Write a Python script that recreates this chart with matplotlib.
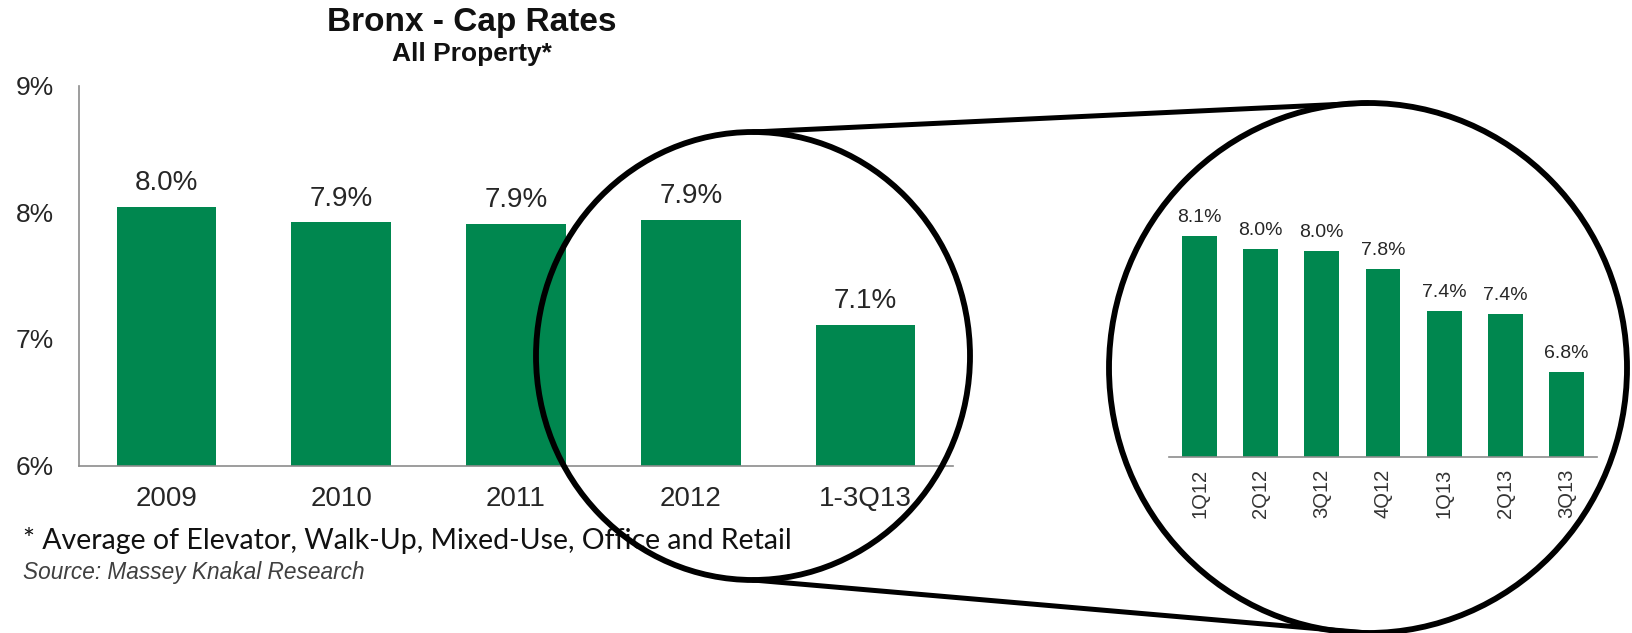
import matplotlib
matplotlib.use("Agg")
import matplotlib.pyplot as plt
from matplotlib.patches import Ellipse
from matplotlib.ticker import FuncFormatter

plt.rcParams['font.family'] = ['Liberation Sans', 'DejaVu Sans']

# Annual cap rates (%)
years = ["2009", "2010", "2011", "2012", "1-3Q13"]
annual_rates = [8.04, 7.92, 7.91, 7.94, 7.11]

# Quarterly cap rates (%)
quarters = ["1Q12", "2Q12", "3Q12", "4Q12", "1Q13", "2Q13", "3Q13"]
quarterly_rates = [8.10, 7.98, 7.96, 7.79, 7.39, 7.36, 6.81]

green = "#00874f"
axis_grey = "#8c8c8c"
text_dark = "#262626"

W, H = 1633, 633
fig = plt.figure(figsize=(W / 100, H / 100), dpi=100)


def px_axes(x0, y_top, x1, y_bottom):
    # axes rectangle given in pixel coords (origin top-left)
    return fig.add_axes([x0 / W, (H - y_bottom) / H, (x1 - x0) / W, (y_bottom - y_top) / H])


# main annual chart
ax = px_axes(79, 85.5, 953, 465.5)
xs = range(len(years))
ax.bar(xs, annual_rates, width=0.57, color=green)
ax.set_ylim(6, 9)
ax.set_xlim(-0.5, len(years) - 0.5)
ax.set_yticks([6, 7, 8, 9])
ax.yaxis.set_major_formatter(FuncFormatter(lambda v, p: f"{v:.0f}%"))
ax.set_xticks(list(xs))
ax.set_xticklabels(years)
ax.tick_params(axis='both', length=0, labelsize=19, colors=text_dark)
ax.tick_params(axis='x', pad=15, labelsize=20)
ax.tick_params(axis='y', pad=18)
for s in ["top", "right"]:
    ax.spines[s].set_visible(False)
for s in ["left", "bottom"]:
    ax.spines[s].set_color(axis_grey)
    ax.spines[s].set_linewidth(1.2)
for x, v in zip(xs, annual_rates):
    ax.annotate(f"{v:.1f}%", (x, v), xytext=(0, 12), textcoords="offset points",
                ha="center", va="baseline", fontsize=20, color=text_dark)

# quarterly zoom chart
ax2 = px_axes(1169, 142, 1597, 456.5)
qx = range(len(quarters))
ax2.bar(qx, quarterly_rates, width=0.57, color=green)
ax2.set_ylim(6, 9)
ax2.set_xlim(-0.5, len(quarters) - 0.5)
ax2.set_yticks([])
ax2.set_xticks(list(qx))
ax2.set_xticklabels(quarters, rotation=90)
ax2.tick_params(axis='x', length=0, pad=9, labelsize=14.5, colors="#333333")
for s in ["top", "right", "left"]:
    ax2.spines[s].set_visible(False)
ax2.spines["bottom"].set_color(axis_grey)
ax2.spines["bottom"].set_linewidth(1.2)
for x, v in zip(qx, quarterly_rates):
    ax2.annotate(f"{v:.1f}%", (x, v), xytext=(0, 10), textcoords="offset points",
                 ha="center", va="baseline", fontsize=14, color=text_dark)

# titles and notes
fig.text(472 / W, 1 - 22 / H, "Bronx - Cap Rates", ha="center", va="center",
         fontsize=24, fontweight="bold", color="#111111")
fig.text(472 / W, 1 - 54 / H, "All Property*", ha="center", va="center",
         fontsize=19, fontweight="bold", color="#111111")
fig.text(23 / W, 1 - 541 / H, "* Average of Elevator, Walk-Up, Mixed-Use, Office and Retail",
         ha="left", va="center", fontsize=20.5, family=["Lato", "DejaVu Sans"], color="#111111")
fig.text(23 / W, 1 - 573 / H, "Source: Massey Knakal Research", ha="left", va="center",
         fontsize=16.3, style="italic", color="#404040")

# magnifier circles and connecting lines, in pixel space
ov = fig.add_axes([0, 0, 1, 1], zorder=10)
ov.set_xlim(0, W)
ov.set_ylim(H, 0)
ov.axis("off")
ov.patch.set_alpha(0)
ov.add_patch(Ellipse((753, 356), 434, 448, fill=False, lw=4.2, ec="black"))
ov.add_patch(Ellipse((1368, 368), 518, 530, fill=False, lw=4.2, ec="black"))
ov.plot([753, 1368], [132, 103], color="black", lw=3.6, solid_capstyle="round")
ov.plot([753, 1368], [580, 633], color="black", lw=3.6, solid_capstyle="round")

fig.savefig("out.png", dpi=100)
